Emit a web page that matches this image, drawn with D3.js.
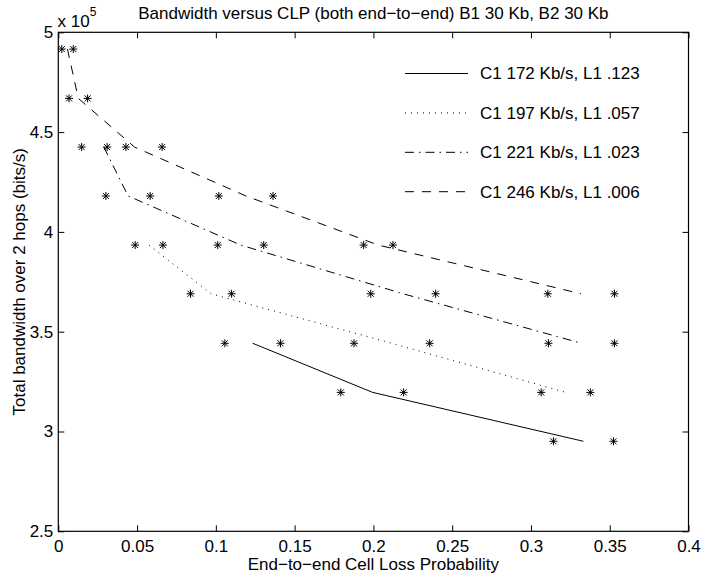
<!DOCTYPE html>
<html>
<head>
<meta charset="utf-8">
<script src="https://cdn.jsdelivr.net/npm/d3@7"></script>
<style>
  body { margin: 0; background: #fff; }
  svg { display: block; font-family: "Liberation Sans", Arial, Helvetica, sans-serif; }
  .axis text { font-size: 17px; fill: #000; }
  .axis line { stroke: #000; }
  .axis path { display: none; }
</style>
</head>
<body>
<svg id="chart" width="702" height="577"></svg>
<script>
// tick labels
var xTicks = [0, 0.05, 0.1, 0.15, 0.2, 0.25, 0.3, 0.35, 0.4];
var yTicks = [2.5, 3, 3.5, 4, 4.5, 5];   // x 10^5 bits/s

var legendLabels = ["C1 172 Kb/s, L1 .123", "C1 197 Kb/s, L1 .057",
                    "C1 221 Kb/s, L1 .023", "C1 246 Kb/s, L1 .006"];

// curve for each C1 (x = CLP, y = bandwidth x 10^5)
var curve172X = [0.1234, 0.1995, 0.3333];
var curve172Y = [3.442, 3.196, 2.951];
var curve197X = [0.0576, 0.097, 0.2117, 0.3221];
var curve197Y = [3.934, 3.69, 3.442, 3.196];
var curve221X = [0.0289, 0.0443, 0.1158, 0.2189, 0.332];
var curve221Y = [4.425, 4.18, 3.934, 3.69, 3.442];
var curve246X = [0.0058, 0.0127, 0.0484, 0.1191, 0.2031, 0.3318];
var curve246Y = [4.916, 4.669, 4.425, 4.18, 3.934, 3.69];

// '*' points
var stars172X = [0.1057, 0.141, 0.1793, 0.2192, 0.3143, 0.3524];
var stars172Y = [3.442, 3.442, 3.196, 3.196, 2.951, 2.951];
var stars197X = [0.0488, 0.0664, 0.0839, 0.110, 0.1877, 0.2357, 0.3065, 0.3377];
var stars197Y = [3.934, 3.934, 3.69, 3.69, 3.442, 3.442, 3.196, 3.196];
var stars221X = [0.0148, 0.0429, 0.0302, 0.0583, 0.1012, 0.1304, 0.1983, 0.2395, 0.3111, 0.353];
var stars221Y = [4.425, 4.425, 4.18, 4.18, 3.934, 3.934, 3.69, 3.69, 3.442, 3.442];
var stars246X = [0.0022, 0.0095, 0.0068, 0.0186, 0.031, 0.0659, 0.1019, 0.1363, 0.1938, 0.2124, 0.3107, 0.353];
var stars246Y = [4.916, 4.916, 4.669, 4.669, 4.425, 4.425, 4.18, 4.18, 3.934, 3.934, 3.69, 3.69];

var dashes = [null, "1,5", "9,5,1.5,5", "9,8"];

var svg = d3.select("#chart"),
    margin = {top: 32.3, right: 13.5, bottom: 45.7, left: 58.3},
    width = 702 - margin.left - margin.right,
    height = 577 - margin.top - margin.bottom,
    g = svg.append("g").attr("transform", "translate(" + margin.left + "," + margin.top + ")");

var x = d3.scaleLinear().domain([0, 0.4]).range([0, width]);
var y = d3.scaleLinear().domain([2.5, 5]).range([height, 0]);

function zip(xs, ys) {
    return xs.map(function (d, i) { return [d, ys[i]]; });
}

var curves = [zip(curve172X, curve172Y), zip(curve197X, curve197Y),
              zip(curve221X, curve221Y), zip(curve246X, curve246Y)];
var stars = [].concat(zip(stars172X, stars172Y), zip(stars197X, stars197Y),
                      zip(stars221X, stars221Y), zip(stars246X, stars246Y));

// axes, ticks inside like matlab
g.append("g").attr("class", "axis")
    .attr("transform", "translate(0," + height + ")")
    .call(d3.axisBottom(x).tickValues(xTicks).tickFormat(function (d) { return d; })
        .tickSizeInner(-6).tickSizeOuter(0).tickPadding(8.7));
g.append("g").attr("class", "axis")
    .call(d3.axisTop(x).tickValues(xTicks).tickFormat("").tickSizeInner(-6).tickSizeOuter(0));
g.append("g").attr("class", "axis")
    .call(d3.axisLeft(y).tickValues(yTicks).tickFormat(function (d) { return d; })
        .tickSizeInner(-6).tickSizeOuter(0).tickPadding(5));
g.append("g").attr("class", "axis")
    .attr("transform", "translate(" + width + ",0)")
    .call(d3.axisRight(y).tickValues(yTicks).tickFormat("").tickSizeInner(-6).tickSizeOuter(0));

g.append("rect")
    .attr("width", width).attr("height", height)
    .attr("fill", "none").attr("stroke", "#000").attr("stroke-width", 1.2);

var line = d3.line()
    .x(function (d) { return x(d[0]); })
    .y(function (d) { return y(d[1]); });

g.selectAll(".curve")
    .data(curves)
    .enter().append("path")
    .attr("class", "curve")
    .attr("d", line)
    .attr("fill", "none")
    .attr("stroke", "#000")
    .attr("stroke-width", 1)
    .attr("stroke-dasharray", function (d, i) { return dashes[i]; });

var star = "M-4,0H4M0,-4V4M-3,-3L3,3M-3,3L3,-3";
g.selectAll(".star")
    .data(stars)
    .enter().append("path")
    .attr("class", "star")
    .attr("transform", function (d) { return "translate(" + x(d[0]) + "," + y(d[1]) + ")"; })
    .attr("d", star)
    .attr("stroke", "#000")
    .attr("stroke-width", 1);

// legend
var legend = svg.append("g").attr("transform", "translate(405,73.5)");
legendLabels.forEach(function (label, i) {
    var row = legend.append("g").attr("transform", "translate(0," + i * 39.4 + ")");
    row.append("line")
        .attr("x1", 0).attr("x2", 63)
        .attr("stroke", "#000").attr("stroke-width", 1)
        .attr("stroke-dasharray", dashes[i]);
    row.append("text")
        .attr("x", 75).attr("dy", "0.35em")
        .attr("font-size", 17)
        .text(label);
});

// titles
svg.append("text")
    .attr("x", margin.left + width / 2).attr("y", 19)
    .attr("text-anchor", "middle").attr("font-size", 17)
    .text("Bandwidth versus CLP (both end\u2212to\u2212end) B1 30 Kb, B2 30 Kb");

svg.append("text")
    .attr("x", margin.left + width / 2).attr("y", 570)
    .attr("text-anchor", "middle").attr("font-size", 17)
    .text("End\u2212to\u2212end Cell Loss Probability");

svg.append("text")
    .attr("transform", "translate(25," + (margin.top + height / 2) + ") rotate(-90)")
    .attr("text-anchor", "middle").attr("font-size", 17)
    .text("Total bandwidth over 2 hops (bits/s)");

var mult = svg.append("text").attr("x", 57.5).attr("y", 27).attr("font-size", 17);
mult.append("tspan").text("x 10");
mult.append("tspan").attr("dy", -11).attr("font-size", 12).text("5");
</script>
</body>
</html>
